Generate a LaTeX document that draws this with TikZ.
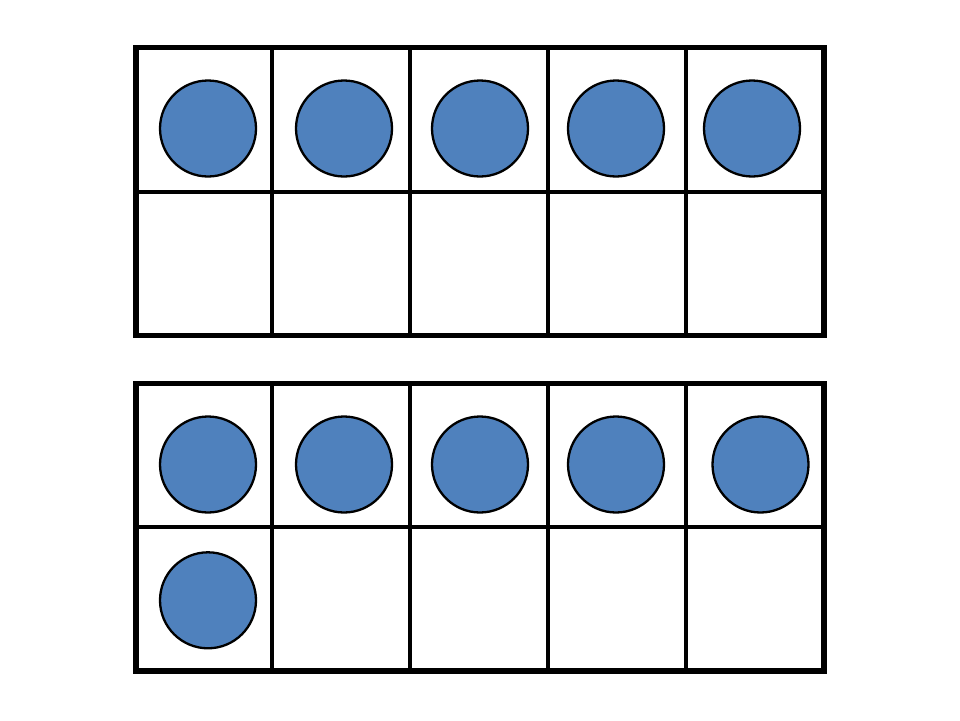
\documentclass[tikz,border=0pt]{standalone}
\usepackage{tikz}
\definecolor{counterblue}{HTML}{4F81BD}
\tikzset{counter/.style = {circle, draw=black, fill=counterblue, line width=2.3pt,
    minimum size=96pt, inner sep=0pt},
  frame border/.style = {draw=black, line width=5.5pt},
  frame line/.style = {draw=black, line width=4pt}}

\begin{document}
\begin{tikzpicture}[x=1pt, y=-1pt]
  \useasboundingbox (0,0) rectangle (960,720);

      % top frame: five counters
      \path[frame line] (136,191.5) -- (824,191.5)
        (272,47.5) -- (272,335.5)
        (410,47.5) -- (410,335.5)
        (548,47.5) -- (548,335.5)
        (685.5,47.5) -- (685.5,335.5);
      \path[frame border] (136,47.5) rectangle (824,335.5);

      \node[counter] (topA) at (208,128.5) {};
      \node[counter] (topB) at (344,128.5) {};
      \node[counter] (topC) at (480,128.5) {};
      \node[counter] (topD) at (616,128.5) {};
      \node[counter] (topE) at (752,128.5) {};


      % bottom frame: six counters
      \path[frame line] (136,527.3) -- (824,527.3)
        (272,383.5) -- (272,671)
        (410,383.5) -- (410,671)
        (548,383.5) -- (548,671)
        (685.5,383.5) -- (685.5,671);
      \path[frame border] (136,383.5) rectangle (824,671);

      \node[counter] (bottomA) at (208,464.5) {};
      \node[counter] (bottomB) at (344,464.5) {};
      \node[counter] (bottomC) at (480,464.5) {};
      \node[counter] (bottomD) at (616,464.5) {};
      \node[counter] (bottomE) at (760.5,464.5) {};
      \node[counter] (bottomF) at (208,600.3) {};
\end{tikzpicture}
\end{document}
